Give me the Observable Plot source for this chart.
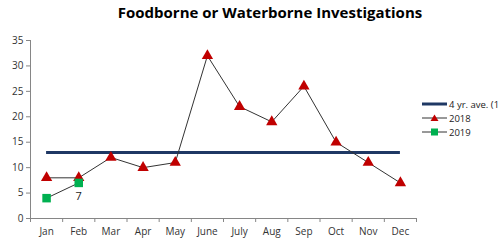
<!DOCTYPE html>
<html><head><meta charset="utf-8">
<script src="https://cdn.jsdelivr.net/npm/d3@7"></script>
<script src="https://cdn.jsdelivr.net/npm/@observablehq/plot@0.6"></script>
<style>
body{margin:0;background:#fff;}
#wrap{position:relative;width:498px;height:249px;overflow:hidden;font-family:"Open Sans",sans-serif;}
#title{position:absolute;left:0;width:540px;top:2px;text-align:center;font-weight:700;font-size:15px;color:#000;}
#legend{position:absolute;left:422px;top:97px;font-size:9.5px;color:#222;white-space:nowrap;}
#legend div{height:14px;display:flex;align-items:center;}
#legend svg{margin-right:1px;}
</style></head>
<body><div id="wrap"><div id="title">Foodborne or Waterborne Investigations</div><div id="chart"></div><div id="legend"></div></div>
<script>
const months = ["Jan","Feb","Mar","Apr","May","June","July","Aug","Sep","Oct","Nov","Dec"];
const y2018 = [8,8,12,10,11,32,22,19,26,15,11,7];
const y2019 = [4,7];
const avg4yr = 13;
const yTicks = [0,5,10,15,20,25,30,35];
const seriesNames = ["4 yr. ave. (13)","2018","2019"];

const d18 = months.map((m,i)=>({i:i+0.5, v:y2018[i]}));
const d19 = y2019.map((v,i)=>({i:i+0.5, v}));
const axisCol = "#868686";

const plot = Plot.plot({
  width: 498, height: 249,
  marginLeft: 30, marginRight: 82, marginTop: 40, marginBottom: 31,
  style: {fontFamily: "Open Sans, sans-serif", fontSize: "10px", color: "#333"},
  x: {domain: [0, 12], axis: null},
  y: {domain: [0, 35], axis: null},
  marks: [
    Plot.axisY({ticks: yTicks, tickSize: 4, tickPadding: 3, stroke: axisCol, fill: "#333", label: null}),
    Plot.ruleX([0], {y1: 0, y2: 35, stroke: axisCol}),
    Plot.ruleY([0], {stroke: axisCol}),
    Plot.axisX({ticks: d3.range(0, 13), tickSize: 4, tickFormat: () => "", stroke: axisCol, tickPadding: 0, label: null}),
    Plot.axisX({ticks: months.map((m,i)=>i+0.5), tickSize: 0, tickPadding: 9, tickFormat: (d) => months[Math.floor(d)], fill: "#333", label: null}),
    Plot.ruleY([avg4yr], {x1: 0.5, x2: 11.5, stroke: "#1F3864", strokeWidth: 3}),
    Plot.line(d18, {x: "i", y: "v", stroke: "#333", strokeWidth: 1}),
    Plot.dot(d18, {x: "i", y: "v", symbol: "triangle", r: 4.2, fill: "#C00000", stroke: "none"}),
    Plot.line(d19, {x: "i", y: "v", stroke: "#333", strokeWidth: 1}),
    Plot.dot(d19, {x: "i", y: "v", symbol: "square", r: 4.8, fill: "#00B050", stroke: "none"}),
    Plot.text(d19.slice(-1), {x: "i", y: "v", text: d => String(d.v), dy: 14, fontSize: 11, fill: "#222"})
  ]
});
document.getElementById("chart").appendChild(plot);

const leg = document.getElementById("legend");
const items = [
  {name: seriesNames[0], kind: "avg"},
  {name: seriesNames[1], kind: "tri"},
  {name: seriesNames[2], kind: "sq"}
];
for (const it of items) {
  const row = document.createElement("div");
  let sym = "";
  if (it.kind === "avg") sym = `<line x1="0" x2="25" y1="6" y2="6" stroke="#1F3864" stroke-width="3"/>`;
  if (it.kind === "tri") sym = `<line x1="0" x2="25" y1="6" y2="6" stroke="#333" stroke-width="1"/><path d="M12.5,2.5L16.5,9L8.5,9Z" fill="#C00000"/>`;
  if (it.kind === "sq") sym = `<line x1="0" x2="25" y1="6" y2="6" stroke="#333" stroke-width="1"/><rect x="9" y="2.5" width="7" height="7" fill="#00B050"/>`;
  row.innerHTML = `<svg width="26" height="12">${sym}</svg><span>${it.name}</span>`;
  leg.appendChild(row);
}
</script></body></html>
